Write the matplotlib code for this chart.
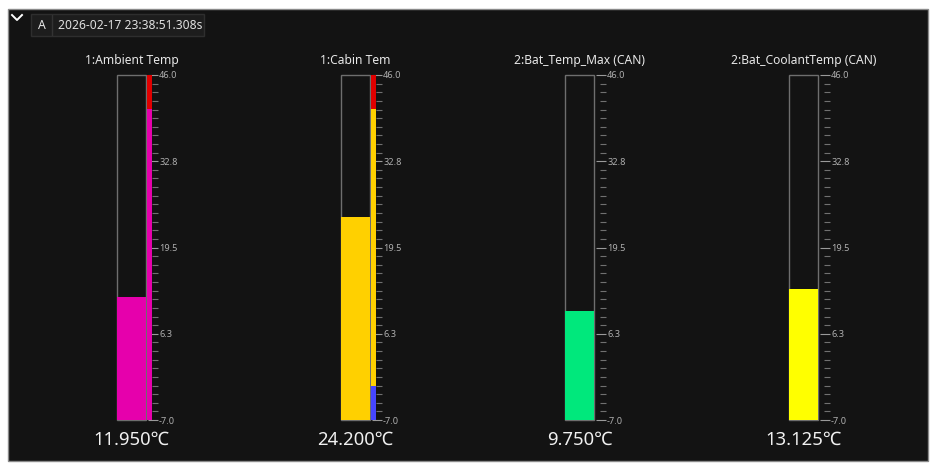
import matplotlib
matplotlib.use("Agg")
import matplotlib.pyplot as plt
from matplotlib.patches import Rectangle
from matplotlib.lines import Line2D
from matplotlib.ticker import FixedLocator

plt.rcParams['font.family'] = ['Noto Sans', 'DejaVu Sans']

# ---- data ----
names = ["1:Ambient Temp", "1:Cabin Tem", "2:Bat_Temp_Max (CAN)", "2:Bat_CoolantTemp (CAN)"]
values = [11.950, 24.200, 9.750, 13.125]
bar_colors = ["#E600AC", "#FFD000", "#00E87C", "#FFFF00"]
scale_min, scale_max = -7.0, 46.0
major_ticks = [-7.0, 6.25, 19.5, 32.75, 46.0]
tick_labels = ["-7.0", "6.3", "19.5", "32.8", "46.0"]
minor_divisions = 40
band_lows = [[40.8, -7.0], [40.8, -1.7, -7.0], [], []]
band_highs = [[46.0, 40.8], [46.0, 40.8, -1.7], [], []]
band_colors = [["#E00000", "#E600AC"], ["#E00000", "#FFD000", "#4646FF"], [], []]
timestamp = "2026-02-17 23:38:51.308s"
cursor_label = "A"
unit = "\u2103"

# ---- layout ----
W, H = 937, 470
fig = plt.figure(figsize=(W / 100, H / 100), dpi=100)
fig.patch.set_facecolor("white")


def fx(px):
    return px / W


def fy(py):
    return 1 - py / H


fig.patches.append(Rectangle((fx(8), fy(461)), fx(928) - fx(8), fy(9) - fy(461),
                             transform=fig.transFigure, facecolor="#131313",
                             edgecolor="#8a8a8a", lw=1, zorder=-10))
# header
fig.patches.append(Rectangle((fx(31), fy(36)), fx(204) - fx(31), fy(14) - fy(36),
                             transform=fig.transFigure, facecolor="#1d1d1d",
                             edgecolor="#2e2e2e", lw=1, zorder=-5))
fig.lines.append(Line2D([fx(52.5), fx(52.5)], [fy(15), fy(35)], transform=fig.transFigure,
                        color="#333333", lw=1, zorder=-4))
fig.lines.append(Line2D([fx(12), fx(17), fx(22)], [fy(15), fy(20), fy(15)],
                        transform=fig.transFigure, color="white", lw=1.4, zorder=-4))
fig.text(fx(42), fy(25.5), cursor_label, ha="center", va="center", color="#e8e8e8", fontsize=8.8)
fig.text(fx(58), fy(25.5), timestamp, ha="left", va="center", color="#e0e0e0", fontsize=8.7)

left_px = [117, 341, 565, 789]
gauge_w = 41
bar_w = 29
strip_x0, strip_x1 = 29.8, 35
top_px, bot_px = 75, 420
px_to_pt = 72 / 100

minor_ticks = [scale_min + k * (scale_max - scale_min) / minor_divisions
               for k in range(minor_divisions + 1)]

for i, L in enumerate(left_px):
    ax = fig.add_axes([fx(L), fy(bot_px), gauge_w / W, (bot_px - top_px) / H])
    ax.set_facecolor("none")
    ax.set_xlim(0, gauge_w)
    ax.set_ylim(scale_min, scale_max)
    ax.bar(0, scale_max - scale_min, bottom=scale_min, width=bar_w, align="edge",
           fill=False, edgecolor="#6e6e6e", lw=1, zorder=1, clip_on=False)
    ax.bar(0, values[i] - scale_min, bottom=scale_min, width=bar_w, align="edge",
           color=bar_colors[i], lw=0, zorder=2)
    for lo, hi, c in zip(band_lows[i], band_highs[i], band_colors[i]):
        ax.bar(strip_x0, hi - lo, bottom=lo, width=strip_x1 - strip_x0, align="edge",
               color=c, lw=0, zorder=2)
    for s in ax.spines.values():
        s.set_visible(False)
    ax.yaxis.tick_right()
    ax.set_yticks(major_ticks)
    ax.set_yticklabels(tick_labels)
    ax.yaxis.set_minor_locator(FixedLocator(minor_ticks))
    ax.tick_params(axis="y", which="major", length=10 * px_to_pt, width=0.8, color="#9a9a9a",
                   labelsize=6.6, labelcolor="#b0b0b0", pad=0.8, direction="in")
    ax.tick_params(axis="y", which="minor", length=6 * px_to_pt, width=0.8, color="#707070",
                   direction="in")
    ax.tick_params(axis="x", bottom=False, labelbottom=False)

    cx = fx(L + bar_w / 2)
    fig.text(cx, fy(64), names[i], ha="center", va="baseline", color="#e8e8e8", fontsize=8.7)
    fig.text(cx, fy(445), f"{values[i]:.3f}{unit}", ha="center", va="baseline",
             color="#f0f0f0", fontsize=13.3)

fig.savefig("out.png", dpi=100, facecolor=fig.get_facecolor())
